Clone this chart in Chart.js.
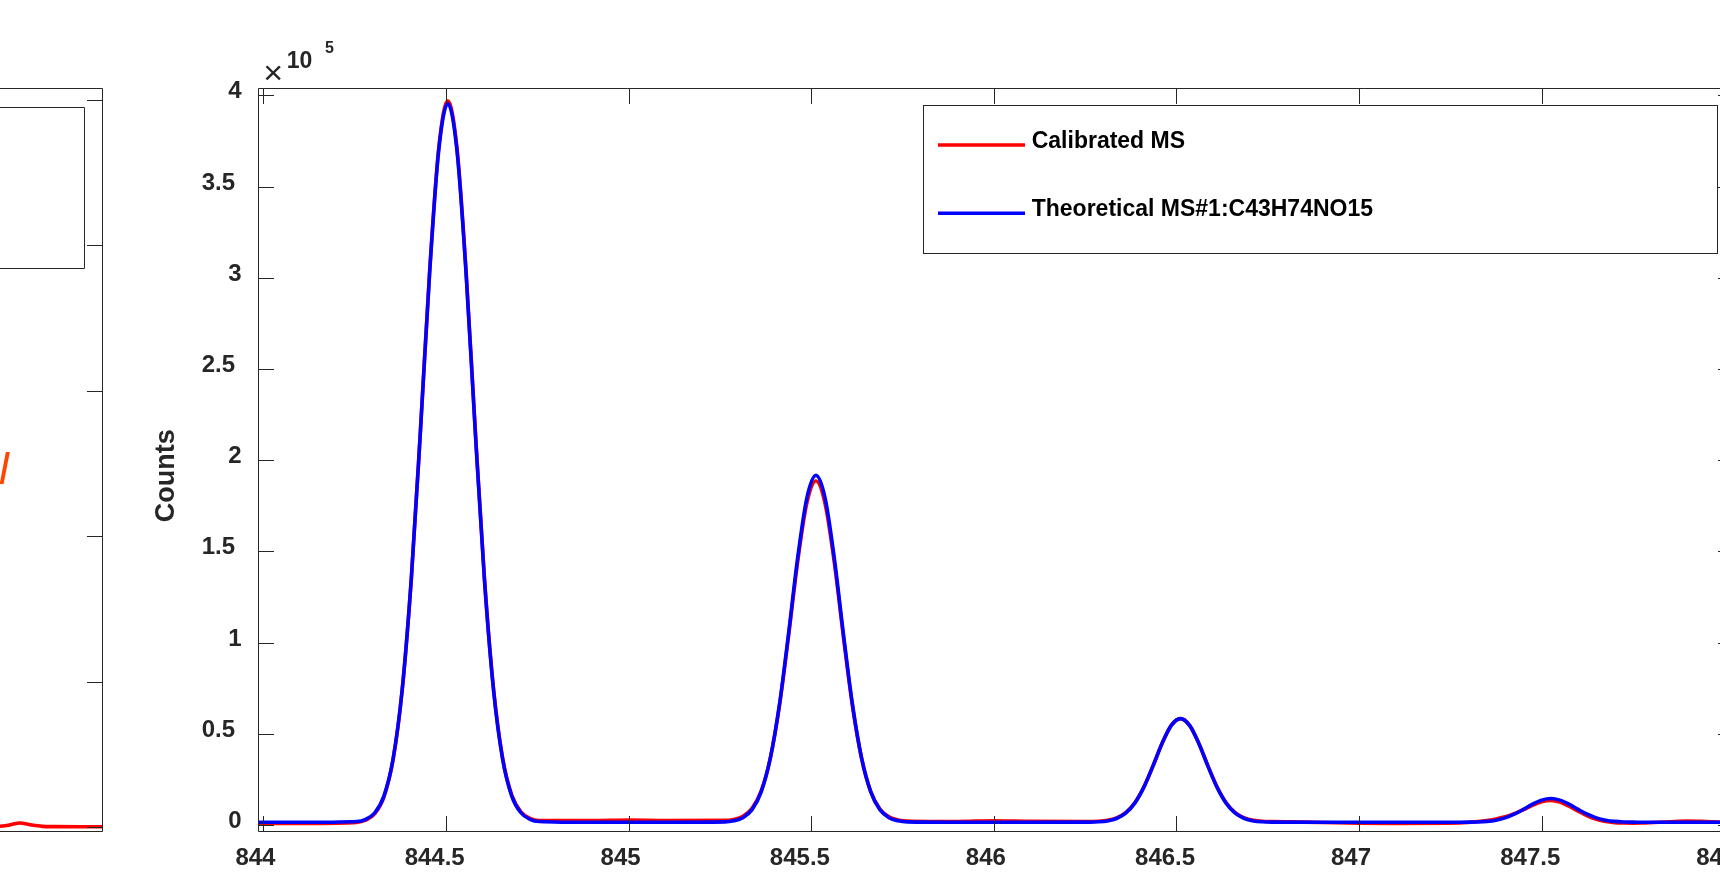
<!DOCTYPE html>
<html>
<head>
<meta charset="utf-8">
<title>Calibrated vs theoretical isotope pattern</title>
<script src="https://cdn.jsdelivr.net/npm/chart.js@4.4.1/dist/chart.umd.min.js"></script>
<style>
  html, body { margin: 0; padding: 0; background: #ffffff; overflow: hidden; width: 1720px; height: 872px; }
  #side { position: absolute; left: -358px; top: 0; }
  #main { position: absolute; left: 0; top: 0; }
</style>
</head>
<body>
<canvas id="side" width="470" height="872"></canvas>
<canvas id="main" width="1760" height="872"></canvas>
<script>
// ---- m/z grid shared by both spectra ----
const mz = [
  843.986, 844.1,
  844.255, 844.28, 844.305, 844.33, 844.355, 844.38, 844.405, 844.43, 844.455, 844.48, 844.505,
  844.53, 844.555, 844.58, 844.605, 844.63, 844.655, 844.68, 844.705, 844.73, 844.755,
  844.9, 845.0, 845.1,
  845.263, 845.288, 845.313, 845.338, 845.363, 845.388, 845.413, 845.438, 845.463, 845.488, 845.513,
  845.538, 845.563, 845.588, 845.613, 845.638, 845.663, 845.688, 845.713, 845.738, 845.763,
  845.9, 846.0, 846.1,
  846.261, 846.286, 846.311, 846.336, 846.361, 846.386, 846.411, 846.436, 846.461, 846.486, 846.511,
  846.536, 846.561, 846.586, 846.611, 846.636, 846.661, 846.686, 846.711, 846.736, 846.761,
  846.9, 847.0, 847.1,
  847.275, 847.3, 847.325, 847.35, 847.375, 847.4, 847.425, 847.45, 847.475, 847.5, 847.525,
  847.55, 847.575, 847.6, 847.625, 847.65, 847.675, 847.7, 847.725, 847.75, 847.775,
  847.85, 847.9, 847.95, 848.024
];

// Measured (calibrated) spectrum, counts
const calibratedCounts = [
  800, 900,
  1460, 2660, 6240, 15440, 35770, 74100, 135280, 216540, 303190, 371100, 397000,
  371170, 303430, 217000, 135950, 74920, 36680, 16400, 7230, 3660, 2460,
  2400, 2700, 2500,
  2520, 3080, 4770, 9090, 18660, 36690, 65470, 103700, 144470, 176420, 188600,
  176120, 144170, 103400, 65170, 36390, 18360, 8790, 4470, 2780, 2220,
  1900, 2300, 2000,
  1870, 2040, 2550, 3860, 6760, 12230, 20960, 32550, 44920, 54600, 58300,
  54600, 44920, 32550, 20960, 12230, 6760, 3860, 2550, 2040, 1870,
  1400, 1000, 900,
  1100, 1400, 1900, 2500, 3300, 4500, 6200, 8400, 10800, 12700, 13500,
  12600, 10300, 7600, 5000, 3100, 1900, 1300, 1100, 1050, 1100,
  1800, 2200, 1900, 1300
];

// Theoretical isotope pattern for C43H74NO15, counts
const theoreticalCounts = [
  1500, 1500,
  1960, 3150, 6710, 15870, 36090, 74230, 135100, 215950, 302200, 369700, 395500,
  369700, 302200, 215950, 135100, 74230, 36090, 15870, 6710, 3150, 1960,
  1500, 1500, 1500,
  1720, 2300, 4020, 8430, 18200, 36610, 66000, 105030, 146640, 179260, 191700,
  179260, 146640, 105030, 66000, 36610, 18200, 8430, 4020, 2300, 1720,
  1500, 1500, 1500,
  1570, 1740, 2250, 3570, 6490, 11990, 20760, 32420, 44840, 54590, 58300,
  54590, 44840, 32420, 20760, 11990, 6490, 3570, 2250, 1740, 1570,
  1500, 1500, 1500,
  1520, 1550, 1670, 1970, 2640, 3900, 5910, 8580, 11420, 13650, 14500,
  13650, 11420, 8580, 5910, 3900, 2640, 1970, 1670, 1550, 1520,
  1500, 1500, 1500, 1500
];

const seriesNames = ['Calibrated MS', 'Theoretical MS#1:C43H74NO15'];
const mzTicks = [844, 844.5, 845, 845.5, 846, 846.5, 847, 847.5, 848];
const countTicks = [0, 50000, 100000, 150000, 200000, 250000, 300000, 350000, 400000];
const countExponent = 5;

// neighbouring panel (only its right edge is on the page)
const sideX = [0.70, 0.76, 0.79, 0.80, 0.822, 0.845, 0.87, 0.90, 0.95, 1.0];
const sideY = [0.006, 0.007, 0.012, 0.018, 0.031, 0.018, 0.008, 0.006, 0.005, 0.005];
const sideTicks = [0, 1, 2, 3, 4, 5];

const AXIS = '#262626';
const FAMILY = "'Liberation Sans', Arial, Helvetica, sans-serif";
const TICK_LEN = 15.5;

function tickText(v) {
  const s = String(+v.toFixed(2));
  return s.indexOf('.') >= 0 ? s + ' ' : s;
}

// Box, inward tick marks, legend and axis annotations in the MATLAB look
const mainFrame = {
  id: 'mainFrame',
  afterDatasetsDraw(chart) {
    const { ctx, chartArea: a, scales: { x, y } } = chart;
    ctx.save();
    ctx.strokeStyle = AXIS;
    ctx.lineWidth = 1;
    const L = Math.round(a.left) + 0.5, R = Math.round(a.right) + 0.5;
    const T = Math.round(a.top) + 0.5, B = Math.round(a.bottom) + 0.5;
    ctx.beginPath();
    ctx.rect(L, T, R - L, B - T);
    mzTicks.forEach(v => {
      const px = Math.round(x.getPixelForValue(v)) + 0.5;
      ctx.moveTo(px, B); ctx.lineTo(px, B - TICK_LEN);
      ctx.moveTo(px, T); ctx.lineTo(px, T + TICK_LEN);
    });
    countTicks.forEach(v => {
      const py = Math.round(y.getPixelForValue(v)) + 0.5;
      ctx.moveTo(L, py); ctx.lineTo(L + TICK_LEN, py);
      ctx.moveTo(R, py); ctx.lineTo(R - TICK_LEN, py);
    });
    ctx.stroke();

    // y axis title
    ctx.fillStyle = AXIS;
    ctx.font = 'bold 27px ' + FAMILY;
    ctx.textAlign = 'center';
    ctx.textBaseline = 'alphabetic';
    ctx.save();
    ctx.translate(a.left - 93.6, (a.top + a.bottom) / 2 + 16.3);
    ctx.rotate(-Math.PI / 2);
    ctx.fillText('Counts', 0, 9.7);
    ctx.restore();

    // exponent of the count axis
    ctx.font = '34px ' + FAMILY;
    ctx.textBaseline = 'middle';
    ctx.fillText('\u00d7', a.left + 15, a.top - 14);
    ctx.textAlign = 'left';
    ctx.textBaseline = 'alphabetic';
    ctx.font = 'bold 23px ' + FAMILY;
    ctx.fillText('10', a.left + 28.4, a.top - 20);
    ctx.font = 'bold 16px ' + FAMILY;
    ctx.fillText(String(countExponent), a.left + 66.7, a.top - 35);

    // legend
    const bl = a.right - 809.7, bt = a.top + 16.7;
    const br = a.right - 15.7, bb = a.top + 165;
    ctx.fillStyle = '#ffffff';
    ctx.fillRect(bl, bt, br - bl, bb - bt);
    ctx.strokeStyle = AXIS;
    ctx.strokeRect(Math.round(bl) + 0.5, Math.round(bt) + 0.5, Math.round(br - bl), Math.round(bb - bt));
    const rows = [40, 108.3];
    chart.data.datasets.forEach((ds, i) => {
      const ly = bt + rows[i];
      ctx.strokeStyle = ds.borderColor;
      ctx.lineWidth = 3.4;
      ctx.beginPath();
      ctx.moveTo(bl + 14.7, ly);
      ctx.lineTo(bl + 101.7, ly);
      ctx.stroke();
      ctx.fillStyle = '#000000';
      ctx.font = 'bold 23px ' + FAMILY;
      ctx.fillText(ds.label, bl + 108.4, ly + 3);
    });
    ctx.restore();
  }
};

const mainChart = new Chart(document.getElementById('main'), {
  type: 'line',
  data: {
    datasets: [
      {
        label: seriesNames[0],
        data: mz.map((m, i) => ({ x: m, y: calibratedCounts[i] })),
        borderColor: '#ff0000',
        borderWidth: 3.6,
        pointRadius: 0,
        cubicInterpolationMode: 'monotone',
        borderJoinStyle: 'round',
        borderCapStyle: 'round',
        fill: false,
        order: 1
      },
      {
        label: seriesNames[1],
        data: mz.map((m, i) => ({ x: m, y: theoreticalCounts[i] })),
        borderColor: '#0000ff',
        borderWidth: 3.6,
        pointRadius: 0,
        cubicInterpolationMode: 'monotone',
        borderJoinStyle: 'round',
        borderCapStyle: 'round',
        fill: false,
        order: 0
      }
    ]
  },
  options: {
    responsive: false,
    animation: false,
    devicePixelRatio: 1,
    events: [],
    layout: { padding: { left: 0, right: 27, top: 88.3, bottom: 0 } },
    plugins: { legend: { display: false }, tooltip: { enabled: false } },
    scales: {
      x: {
        type: 'linear',
        min: 843.986,
        max: 848.024,
        afterBuildTicks: s => { s.ticks = mzTicks.map(v => ({ value: v })); },
        afterFit: s => { s.height = 41.3; },
        grid: { display: false, drawTicks: false },
        border: { display: false },
        ticks: {
          color: AXIS,
          font: { family: FAMILY, size: 24, weight: 'bold' },
          padding: 13,
          labelOffset: -8,
          maxRotation: 0,
          autoSkip: false,
          callback: v => tickText(v)
        }
      },
      y: {
        type: 'linear',
        min: -3125,
        max: 403900,
        afterBuildTicks: s => { s.ticks = countTicks.map(v => ({ value: v })); },
        afterFit: s => { s.width = 258.3; },
        grid: { display: false, drawTicks: false },
        border: { display: false },
        ticks: {
          color: AXIS,
          font: { family: FAMILY, size: 24, weight: 'bold' },
          padding: 16.6,
          labelOffset: -3.7,
          autoSkip: false,
          callback: v => tickText(v / Math.pow(10, countExponent))
        }
      }
    }
  },
  plugins: [mainFrame]
});

// Right edge of the neighbouring panel
const sideFrame = {
  id: 'sideFrame',
  afterDatasetsDraw(chart) {
    const { ctx, chartArea: a, scales: { y } } = chart;
    ctx.save();
    ctx.strokeStyle = AXIS;
    ctx.lineWidth = 1;
    const L = Math.round(a.left) + 0.5, R = Math.round(a.right) + 0.5;
    const T = Math.round(a.top) + 0.5, B = Math.round(a.bottom) + 0.5;
    ctx.beginPath();
    ctx.rect(L, T, R - L, B - T);
    sideTicks.forEach(v => {
      const py = Math.round(y.getPixelForValue(v)) + 0.5;
      ctx.moveTo(R, py); ctx.lineTo(R - TICK_LEN, py);
      ctx.moveTo(L, py); ctx.lineTo(L + TICK_LEN, py);
    });
    ctx.stroke();

    // legend frame of that panel
    ctx.beginPath();
    ctx.rect(Math.round(a.right - 400) + 0.5, Math.round(a.top + 18.4) + 0.5, 382, Math.round(160.6));
    ctx.stroke();

    // annotation text of that panel
    ctx.fillStyle = '#ff4500';
    ctx.font = 'italic 44px ' + FAMILY;
    ctx.textBaseline = 'alphabetic';
    const m = ctx.measureText('l');
    ctx.fillText('l', a.right - 92 - m.actualBoundingBoxRight, 484);
    ctx.restore();
  }
};

new Chart(document.getElementById('side'), {
  type: 'line',
  data: {
    datasets: [{
      data: sideX.map((v, i) => ({ x: v, y: sideY[i] })),
      borderColor: '#ff0000',
      borderWidth: 3.6,
      pointRadius: 0,
      cubicInterpolationMode: 'monotone',
      fill: false
    }]
  },
  options: {
    responsive: false,
    animation: false,
    devicePixelRatio: 1,
    events: [],
    layout: { padding: { left: 0, right: 10, top: 88.3, bottom: 41.3 } },
    plugins: { legend: { display: false }, tooltip: { enabled: false } },
    scales: {
      x: { type: 'linear', display: false, min: 0, max: 1 },
      y: { type: 'linear', display: false, min: -0.022, max: 5.08 }
    }
  },
  plugins: [sideFrame]
});
</script>
</body>
</html>
